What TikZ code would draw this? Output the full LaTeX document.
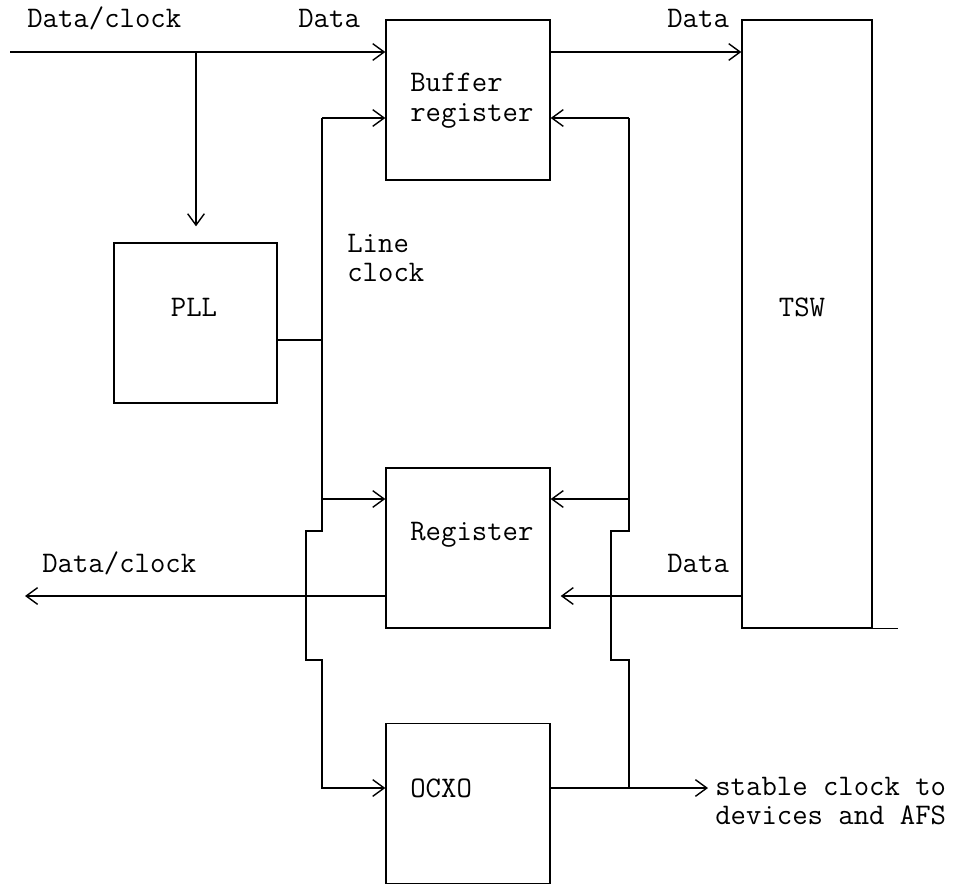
\documentclass[tikz,border=0pt]{standalone}
\usepackage{fontspec}
\usetikzlibrary{calc,arrows.meta}
\tikzset{
  block/.style={draw, line width=0.8pt, inner sep=0pt, minimum width=3.28cm, minimum height=3.2cm},
  lbl/.style={font=\ttfamily\fontsize{17pt}{17pt}\selectfont, inner sep=0pt, align=left},
  wire/.style={line width=0.8pt},
  >={Straight Barb[length=6.5pt,width=9.5pt]}
}
\begin{document}
\begin{tikzpicture}[x=0.02cm, y=-0.02cm]
		\useasboundingbox (0,0) rectangle (959,885);
		%%%%% BLOCKS %%%%%
		
		\node[block] (buf) at (468,100) {};
		\node[block, minimum width=3.26cm] (pll) at (195.5,323) {};
		\node[block] (reg) at (468,548) {};
		\node[block] (ocxo) at (468,803.5) {};
		\node[block, minimum width=2.6cm, minimum height=12.16cm] (tsw) at (807,324) {};
		
		\node[lbl, anchor=west] (tbuf) at (410,101) {Buffer\\register};
		\node[lbl] (tpll) at (194,307) {PLL};
		\node[lbl, anchor=base west] (treg) at (410,540) {Register};
		\node[lbl, anchor=base west] (tocxo) at (410,797) {OCXO};
		\node[lbl] (ttsw) at (802,307) {TSW};
		
		%%%%% LABELS %%%%%
		
		\node[lbl, anchor=base west] (tin) at (27,28) {Data/clock};
		\node[lbl, anchor=base west] (tdata) at (298,28) {Data};
		\node[lbl, anchor=base west] (tdatasw) at (667,28) {Data};
		\node[lbl, anchor=west] (tline) at (347,258) {Line\\clock};
		\node[lbl, anchor=base west] (tout) at (42,572) {Data/clock};
		\node[lbl, anchor=base west] (tdatareg) at (667,572) {Data};
		\node[lbl, anchor=west] (tstable) at (715,801) {stable clock to\\devices and AFS};
		
		%%%%% WIRES %%%%%
		
		\coordinate (in) at (10,52);
		\coordinate (split) at (196,52);
		\coordinate (ltop) at (322,118);
		\coordinate (lpll) at (322,340);
		\coordinate (lreg) at (322,499);
		\coordinate (rtop) at (629,118);
		\coordinate (rreg) at (629,499);
		\coordinate (out) at (25,596);
		\coordinate (dev) at (708,788);
		
		\draw[wire, ->] (in) -- (in -| buf.west);
		\draw[wire, ->, shorten >=0.32cm] (split) -- (split |- pll.north);
		\draw[wire, ->] (buf.east |- in) -- (tsw.west |- in);
		
		\draw[wire, ->] (ltop) -- (ltop -| buf.west);
		\draw[wire, ->] (rtop) -- (rtop -| buf.east);
		\draw[wire] (pll.east |- lpll) -- (lpll);
		\draw[wire, ->] (lreg) -- (lreg -| reg.west);
		\draw[wire, ->] (rreg) -- (rreg -| reg.east);
		
		\draw[wire, ->] (ltop) -- ++(0,413) -- ++(-16,0) -- ++(0,129) -- ++(16,0) |- (ocxo.west |- dev);
		\draw[wire] (rtop) -- ++(0,413) -- ++(-18,0) -- ++(0,129) -- ++(18,0) -- (rtop |- dev);
		\draw[wire, ->] (ocxo.east |- dev) -- (dev);
		
		\draw[wire, ->] (reg.west |- out) -- (out);
		\draw[wire, ->, shorten >=0.2cm] (tsw.west |- out) -- (reg.east |- out);
		\draw[wire] (tsw.south east) -- ++(25,0);
		
		%%%%% END %%%%%
	\end{tikzpicture}
\end{document}
